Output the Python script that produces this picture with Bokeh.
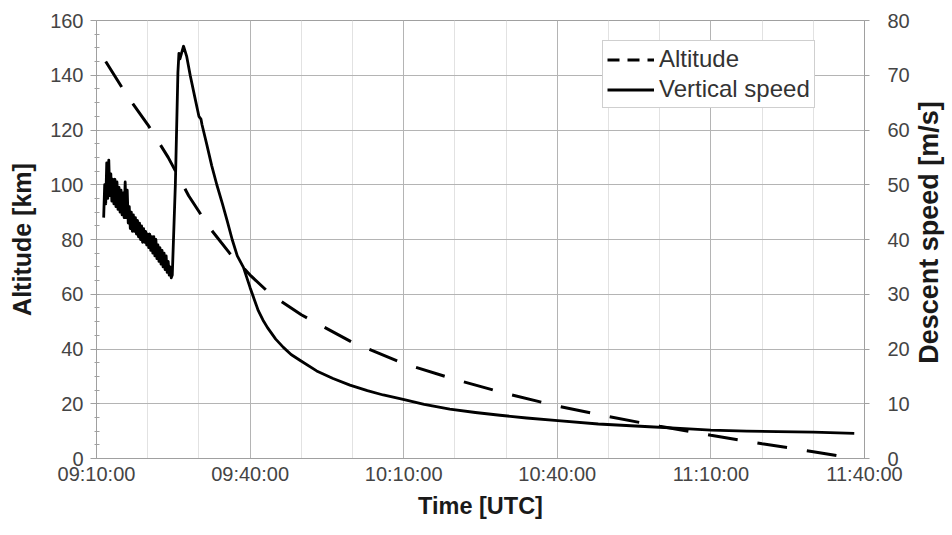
import math
from bokeh.plotting import figure
from bokeh.layouts import row
from bokeh.models import Range1d, LinearAxis, FixedTicker, Legend, LegendItem, ColumnDataSource
from bokeh.core.properties import value
from bokeh.embed import file_html
from bokeh.resources import INLINE

# Time axis: minutes after 09:10:00 UTC
x_ticks = [0, 30, 60, 90, 120, 150]
x_tick_labels = ["09:10:00", "09:40:00", "10:10:00", "10:40:00", "11:10:00", "11:40:00"]
x_minor = [10, 20, 40, 50, 70, 80, 100, 110, 130, 140]

# Altitude [km] (left axis)
alt_time = [1.8, 6.0, 10.0, 14.0, 18.0, 22.0, 26.0, 30.0, 34.0, 40.0, 50.0, 60.0,
            70.0, 80.0, 90.0, 100.0, 110.0, 120.0, 130.0, 140.0, 148.0]
alt_km = [145.0, 132.5, 122.0, 110.0, 96.0, 84.5, 75.0, 67.0, 60.0, 52.5, 42.4, 34.7,
          28.9, 23.7, 19.2, 15.3, 11.8, 8.5, 5.4, 2.5, 0.0]

# Vertical (descent) speed [m/s] (right axis)
spd_time = [1.4, 1.6, 1.8, 2.0, 2.2, 2.4, 2.6, 2.8, 3.0, 3.2, 3.4, 3.6, 3.8, 4.0, 4.2,
            4.4, 4.6, 4.8, 5.0, 5.2, 5.4, 5.6, 5.8, 6.0, 6.2, 6.4, 6.6, 6.8, 7.0, 7.2,
            7.4, 7.6, 7.8, 8.0, 8.2, 8.4, 8.6, 8.8, 9.0, 9.2, 9.4, 9.6, 9.8, 10.0, 10.2,
            10.4, 10.6, 10.8, 11.0, 11.2, 11.4, 11.6, 11.8, 12.0, 12.2, 12.4, 12.6, 12.8,
            13.0, 13.2, 13.4, 13.6, 13.8, 14.0, 14.2, 14.4, 14.6, 14.8,
            15.4, 15.9, 16.1, 16.3, 16.6, 17.0, 17.6, 18.3, 19.2, 20.0, 20.4, 20.6,
            21.5, 22.5, 23.5, 24.6, 25.5, 26.5, 27.5, 28.7, 30.0, 31.6, 32.5, 33.4,
            35.0, 36.5, 38.0, 39.8, 43.0, 46.2, 49.5, 52.9, 56.0, 59.9, 64.0, 69.0,
            74.0, 78.8, 84.0, 90.1, 98.0, 108.0, 114.0, 120.0, 127.0, 133.0, 140.0, 148.0]
spd_ms = [44.0, 50.0, 46.5, 54.0, 47.5, 54.5, 48.0, 52.0, 47.0, 51.0, 46.5, 51.0, 46.0, 50.5, 45.5,
          49.5, 45.0, 49.0, 44.5, 48.5, 44.0, 50.5, 44.0, 49.0, 43.0, 46.0, 42.0, 45.0, 41.5, 44.5,
          41.5, 44.0, 41.0, 43.5, 40.5, 43.0, 40.0, 42.5, 39.5, 42.0, 39.5, 41.5, 39.0, 41.0, 38.5,
          41.0, 38.0, 40.5, 37.5, 40.5, 37.0, 40.0, 36.5, 39.0, 36.0, 38.5, 35.5, 38.0,
          35.0, 37.5, 34.5, 37.0, 34.0, 36.0, 33.5, 35.0, 33.0, 33.5,
          50.0, 70.5, 74.0, 73.0, 74.0, 75.3, 73.5, 70.0, 66.0, 62.5, 62.0, 61.0,
          57.5, 53.5, 50.0, 46.5, 43.5, 40.0, 37.0, 34.9, 31.2, 27.0, 25.3, 23.9,
          21.8, 20.3, 19.0, 17.9, 16.0, 14.6, 13.4, 12.4, 11.6, 10.8, 9.9, 9.0,
          8.4, 7.9, 7.4, 6.9, 6.3, 5.8, 5.5, 5.2, 5.0, 4.9, 4.8, 4.6]

FONT = "Liberation Sans"
H = 535

p = figure(width=912, height=H, output_backend="svg", toolbar_location=None,
           x_range=Range1d(0, 150), y_range=Range1d(0, 160),
           min_border_left=96, min_border_right=47, min_border_top=20, min_border_bottom=77,
           background_fill_color="white", border_fill_color="white")
p.extra_y_ranges = {"speed": Range1d(0, 80)}
p.outline_line_color = "#a0a0a0"
p.outline_line_width = 1

# grid
p.xgrid.ticker = FixedTicker(ticks=x_ticks, minor_ticks=x_minor)
p.xgrid.grid_line_color = "#b4b4b4"
p.xgrid.minor_grid_line_color = "#e2e2e2"
p.ygrid.ticker = FixedTicker(ticks=[0, 20, 40, 60, 80, 100, 120, 140, 160])
p.ygrid.grid_line_color = "#b4b4b4"

# bottom axis
xa = p.xaxis[0]
xa.ticker = FixedTicker(ticks=x_ticks)
xa.major_label_overrides = {t: s for t, s in zip(x_ticks, x_tick_labels)}
xa.axis_label = "Time [UTC]"

# left axis
ya = p.yaxis[0]
ya.ticker = FixedTicker(ticks=[0, 20, 40, 60, 80, 100, 120, 140, 160],
                        minor_ticks=list(range(5, 160, 5)))
ya.axis_label = "Altitude [km]"

# right axis (its title sits in the narrow strip beside the plot)
ra = LinearAxis(y_range_name="speed",
                ticker=FixedTicker(ticks=[0, 10, 20, 30, 40, 50, 60, 70, 80]))
p.add_layout(ra, "right")

for ax in (xa, ya, ra):
    ax.axis_line_color = "#a0a0a0"
    ax.major_tick_line_color = "#a0a0a0"
    ax.minor_tick_line_color = "#a0a0a0"
    ax.major_label_text_font = FONT
    ax.major_label_text_font_size = "20px"
    ax.major_label_text_color = "#444444"
    ax.axis_label_text_font = FONT
    ax.axis_label_text_font_style = "bold"
    ax.axis_label_text_color = "#1a1a1a"

xa.major_tick_out = 0
xa.major_tick_in = 0
xa.minor_tick_out = 0
xa.minor_tick_in = 0
xa.major_label_standoff = 4
xa.axis_label_standoff = 5
xa.axis_label_text_font_size = "23.5px"

ya.major_tick_out = 6
ya.major_tick_in = 0
ya.minor_tick_out = 2
ya.minor_tick_in = 3
ya.major_label_standoff = 7
ya.axis_label_standoff = 11
ya.axis_label_text_font_size = "25px"

ra.major_tick_out = 5
ra.major_tick_in = 0
ra.minor_tick_out = 0
ra.major_label_standoff = 18

# series
alt_src = ColumnDataSource(dict(t=alt_time, v=alt_km))
spd_src = ColumnDataSource(dict(t=spd_time, v=spd_ms))
p.line("t", "v", source=alt_src, line_color="black", line_width=3, line_dash="30 20")
p.line("t", "v", source=spd_src, y_range_name="speed", line_color="black", line_width=2.8,
       line_join="round")

# legend swatches (no points inside the plot)
nan = float("nan")
leg_alt = p.line(x=[nan, nan], y=[nan, nan], line_color="black", line_width=3, line_dash="12 8")
leg_spd = p.line(x=[nan, nan], y=[nan, nan], line_color="black", line_width=3)
legend = Legend(items=[LegendItem(label="Altitude", renderers=[leg_alt]),
                       LegendItem(label="Vertical speed", renderers=[leg_spd])],
                location=(506, 350), orientation="vertical",
                padding=4, spacing=2, margin=0,
                label_height=27, glyph_height=27, glyph_width=47, label_standoff=5,
                label_text_font=FONT, label_text_font_size="24px", label_text_color="#333333",
                border_line_color="#a0a0a0", border_line_width=1,
                background_fill_color="white", background_fill_alpha=1.0)
p.add_layout(legend)

# narrow strip holding the right-hand axis title, reading upwards
q = figure(width=40, height=H, output_backend="svg", toolbar_location=None,
           x_range=Range1d(0, 40), y_range=Range1d(0, H),
           x_axis_location=None, y_axis_location=None,
           min_border=0, outline_line_color=None,
           background_fill_color="white", border_fill_color="white")
q.xgrid.visible = False
q.ygrid.visible = False
q.text(x=[16], y=[276], text=["Descent speed [m/s]"], angle=math.pi / 2,
       text_align="center", text_baseline="middle",
       text_font=value(FONT), text_font_style="bold", text_font_size="27px",
       text_color="#1a1a1a")

layout = row(p, q, spacing=0)
open("out.html", "w").write(file_html(layout, INLINE))
